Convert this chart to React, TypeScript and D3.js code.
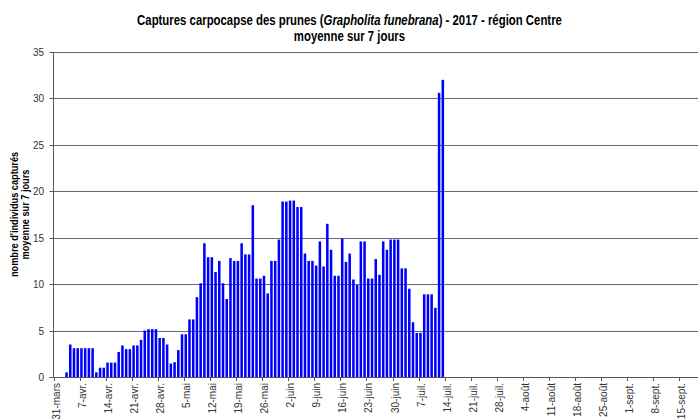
import React, { useLayoutEffect, useRef, useState } from 'react'
import * as d3 from 'd3'

// chart frame (px in the 698x419 window)
const MARGIN = { top: 52, right: 0, bottom: 42, left: 53.5 }
const WIDTH = 698
const HEIGHT = 419

// daily 7-day mean captures, first value = 31 mars 2017
const startDate = new Date(2017, 2, 31)
const endDate = new Date(2017, 8, 20)
const captures: (number | null)[] = [
  null, null, null, 0.5, 3.5, 3.1, 3.1, 3.1, 3.1, 3.1,
  3.1, 0.5, 1.0, 1.0, 1.55, 1.55, 1.55, 2.7, 3.4, 3.0,
  3.0, 3.4, 3.4, 4.0, 5.0, 5.15, 5.15, 5.15, 4.2, 4.2,
  3.5, 1.45, 1.6, 2.9, 4.6, 4.6, 6.2, 6.2, 8.6, 10.1,
  14.4, 12.9, 12.9, 11.3, 12.5, 10.1, 8.4, 12.8, 12.5, 12.5,
  14.4, 13.2, 13.2, 18.5, 10.6, 10.6, 10.9, 9.0, 12.5, 12.5,
  14.8, 18.9, 18.9, 19.0, 19.0, 18.3, 18.3, 13.3, 12.5, 12.5,
  12.0, 14.6, 11.9, 16.5, 13.7, 10.9, 10.9, 14.9, 12.4, 13.3,
  10.5, 9.9, 14.6, 14.6, 10.6, 10.6, 12.7, 11.0, 14.6, 13.7,
  14.8, 14.8, 14.8, 11.7, 11.7, 9.5, 5.9, 4.75, 4.75, 8.9,
  8.9, 8.9, 7.45, 30.6, 32.0,
]

// weekly ticks from 31 mars
const tickLabels = [
  '31-mars', '7-avr.', '14-avr.', '21-avr.', '28-avr.', '5-mai', '12-mai',
  '19-mai', '26-mai', '2-juin', '9-juin', '16-juin', '23-juin', '30-juin',
  '7-juil.', '14-juil.', '21-juil.', '28-juil.', '4-août', '11-août',
  '18-août', '25-août', '1-sept.', '8-sept.', '15-sept.',
]
const yTicks = [0, 5, 10, 15, 20, 25, 30, 35]

const FONT = "'Liberation Sans', Arial, sans-serif"
const TITLE_W = 425
const TITLE_CX = 349.5

export default function App() {
  const titleRef = useRef<SVGTextElement>(null)
  const [sx, setSx] = useState(0.82)

  useLayoutEffect(() => {
    if (titleRef.current) {
      const w = titleRef.current.getComputedTextLength()
      if (w > 0) setSx(TITLE_W / w)
    }
  }, [])

  const x = d3
    .scaleTime()
    .domain([startDate, endDate])
    .range([MARGIN.left, WIDTH - MARGIN.right])
  const y = d3
    .scaleLinear()
    .domain([0, 35])
    .range([HEIGHT - MARGIN.bottom, MARGIN.top])

  const bars = captures
    .map((v, i) => ({ date: d3.timeDay.offset(startDate, i), v }))
    .filter((d) => d.v != null)

  const dayW = x(d3.timeDay.offset(startDate, 1)) - x(startDate)
  const barW = dayW * 0.68

  const tickDates = tickLabels.map((_, i) => d3.timeDay.offset(startDate, i * 7))

  return (
    <svg
      width={WIDTH}
      height={HEIGHT}
      style={{ position: 'absolute', left: 0, top: 0, background: '#fff' }}
      fontFamily={FONT}
    >
      {/* title, squeezed horizontally like the original */}
      <g transform={`translate(${TITLE_CX},0) scale(${sx},1)`}>
        <text ref={titleRef} x={0} y={25} textAnchor="middle" fontSize={14} fontWeight="bold" fill="#000">
          Captures carpocapse des prunes (<tspan fontStyle="italic">Grapholita funebrana</tspan>) - 2017 - région Centre
        </text>
        <text x={0} y={41} textAnchor="middle" fontSize={14} fontWeight="bold" fill="#000">
          moyenne sur 7 jours
        </text>
      </g>

      {/* gridlines */}
      {yTicks.filter((t) => t > 0).map((t) => (
        <line
          key={t}
          x1={MARGIN.left}
          x2={WIDTH}
          y1={Math.round(y(t)) + 0.5}
          y2={Math.round(y(t)) + 0.5}
          stroke="#6a6a6a"
          strokeWidth={1}
        />
      ))}

      {/* bars */}
      {bars.map((d, i) => (
        <rect
          key={i}
          x={x(d.date) + (dayW - barW) / 2}
          y={y(d.v as number)}
          width={barW}
          height={y(0) - y(d.v as number)}
          fill="#0000ff"
        />
      ))}

      {/* y axis */}
      <line x1={MARGIN.left} x2={MARGIN.left} y1={y(35)} y2={y(0)} stroke="#555" />
      {yTicks.map((t) => (
        <g key={t} transform={`translate(0,${Math.round(y(t)) + 0.5})`}>
          <line x1={MARGIN.left - 4} x2={MARGIN.left} stroke="#555" />
          <text x={44} dy="0.35em" textAnchor="end" fontSize={10} fill="#333">
            {t}
          </text>
        </g>
      ))}
      <g transform={`translate(0,${(y(0) + y(35)) / 2}) rotate(-90) scale(0.92,1)`}>
        <text x={0} y={18} textAnchor="middle" fontSize={10} fontWeight="bold" fill="#000">
          nombre d'individus capturés
        </text>
        <text x={0} y={29} textAnchor="middle" fontSize={10} fontWeight="bold" fill="#000">
          moyenne sur 7 jours
        </text>
      </g>

      {/* x axis */}
      <line x1={MARGIN.left} x2={WIDTH} y1={y(0) + 0.5} y2={y(0) + 0.5} stroke="#555" />
      {tickDates.map((d, i) => (
        <g key={i} transform={`translate(${Math.round(x(d)) + 0.5},${y(0)})`}>
          <line y1={0} y2={4} stroke="#555" />
          <text
            transform="translate(2,6) rotate(-90)"
            dy="0.35em"
            textAnchor="end"
            fontSize={10}
            fill="#333"
          >
            {tickLabels[i]}
          </text>
        </g>
      ))}
    </svg>
  )
}
